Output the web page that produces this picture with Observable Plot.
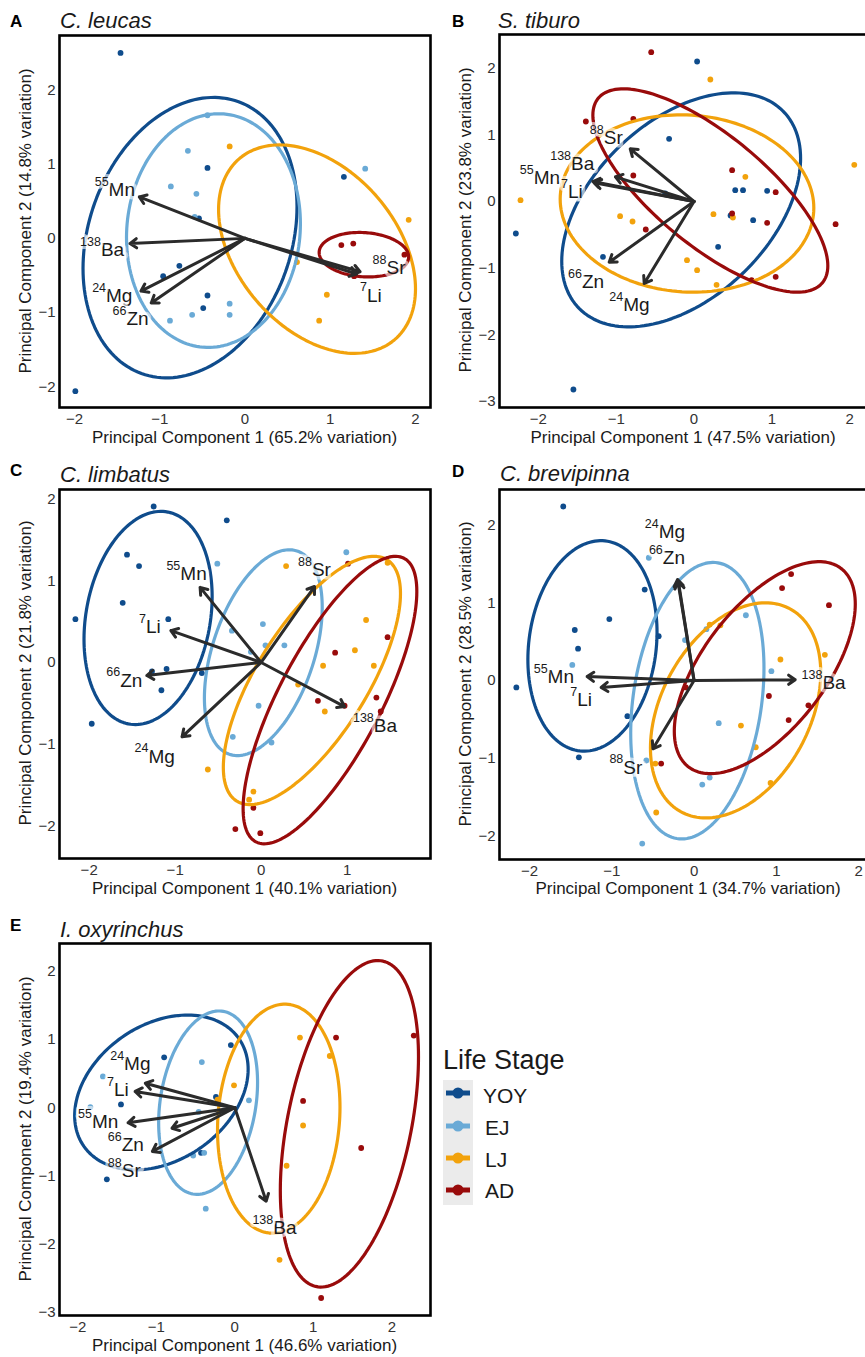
<!DOCTYPE html>
<html>
<head>
<meta charset="utf-8">
<script src="https://cdn.jsdelivr.net/npm/d3@7"></script>
<script src="https://cdn.jsdelivr.net/npm/@observablehq/plot@0.6"></script>
<style>
  html, body { margin: 0; padding: 0; background: #fff; overflow: hidden; }
  #root { position: relative; width: 865px; height: 1357px; overflow: hidden; font-family: "Liberation Sans", Arial, Helvetica, sans-serif; }
  .panel { position: absolute; }
  #overlay { position: absolute; left: 0; top: 0; pointer-events: none; }
</style>
</head>
<body>
<div id="root"></div>
<script>
// ---------------- Data ----------------
const stages = ["YOY", "EJ", "LJ", "AD"];
const stageColors = ["#0f4c8c", "#6aaad6", "#f2a20c", "#990b0b"];

// Panel A — C. leucas
const A_points = [
  ["YOY",-1.46,2.50],["YOY",-1.99,-2.06],["YOY",-0.44,0.95],["YOY",-0.54,0.27],["YOY",-0.77,-0.37],
  ["YOY",-0.96,-0.51],["YOY",-0.44,-0.77],["YOY",-0.49,-0.94],["YOY",1.16,0.83],
  ["EJ",-0.44,1.66],["EJ",-0.67,1.18],["EJ",-0.87,0.70],["EJ",-0.57,0.60],["EJ",-0.59,0.29],
  ["EJ",-0.18,-0.88],["EJ",-0.18,-1.03],["EJ",-0.62,-1.03],["EJ",-0.88,-1.11],["EJ",1.41,0.94],
  ["LJ",-0.18,1.24],["LJ",1.92,0.25],["LJ",0.61,-0.32],["LJ",0.96,-0.76],["LJ",0.87,-1.11],
  ["AD",1.13,-0.09],["AD",1.27,-0.07],["AD",1.87,-0.22],["AD",1.28,-0.51]
];
// ellipse: stage, centre x, centre y, half-width, half-height, tilt (cos phase)
const A_ellipses = [
  ["YOY",-0.645,0.01,1.255,1.89,0.22],
  ["EJ",-0.37,0.105,1.02,1.575,0.06],
  ["LJ",0.845,-0.145,1.155,1.405,-0.38],
  ["AD",1.395,-0.22,0.525,0.30,-0.1]
];
const A_loadings = [
  ["Mn",-1.24,0.56],["Ba",-1.35,-0.07],["Mg",-1.22,-0.71],["Zn",-1.10,-0.87],["Sr",1.35,-0.45],["Li",1.31,-0.48]
];
const A_labels = [
  ["55","Mn",-1.60,0.65],["138","Ba",-1.69,-0.15],["24","Mg",-1.63,-0.78],
  ["66","Zn",-1.39,-1.09],["88","Sr",1.66,-0.40],["7","Li",1.43,-0.77]
];

// Panel B — S. tiburo
const B_points = [
  ["YOY",0.04,2.10],["YOY",-0.32,0.94],["YOY",-0.37,0.12],["YOY",0.53,0.17],["YOY",0.63,0.17],
  ["YOY",0.94,0.16],["YOY",0.76,-0.28],["YOY",0.47,-0.21],["YOY",0.31,-0.68],["YOY",-1.17,-0.83],
  ["YOY",-2.29,-0.48],["YOY",-1.55,-2.82],
  ["LJ",0.21,1.83],["LJ",0.66,0.37],["LJ",2.06,0.55],["LJ",-2.23,0.02],["LJ",-0.95,-0.22],
  ["LJ",-0.79,-0.30],["LJ",0.25,-0.19],["LJ",0.50,-0.24],["LJ",-0.09,-0.88],["LJ",0.04,-1.03],["LJ",0.29,-1.25],
  ["AD",-0.55,2.24],["AD",-1.39,1.20],["AD",-0.78,1.24],["AD",-0.78,0.39],["AD",0.49,0.47],
  ["AD",1.05,0.14],["AD",0.49,-0.18],["AD",0.94,-0.32],["AD",1.82,-0.34],["AD",-0.62,-0.42],
  ["AD",0.74,-1.18],["AD",1.05,-1.13]
];
const B_ellipses = [
  ["YOY",-0.165,-0.125,1.535,1.755,0.44],
  ["LJ",-0.09,-0.03,1.63,1.33,-0.05],
  ["AD",0.21,0.165,1.51,1.525,-0.74]
];
const B_loadings = [
  ["Sr",-0.82,0.79],["Ba",-1.01,0.37],["Mn",-1.30,0.30],["Li",-1.28,0.28],["Zn",-1.09,-0.91],["Mg",-0.64,-1.23]
];
const B_labels = [
  ["88","Sr",-1.16,0.96],["138","Ba",-1.58,0.57],["55","Mn",-2.06,0.35],
  ["7","Li",-1.62,0.14],["66","Zn",-1.44,-1.20],["24","Mg",-0.91,-1.55]
];

// Panel C — C. limbatus
const C_points = [
  ["YOY",-1.25,1.91],["YOY",-0.40,1.74],["YOY",-1.56,1.32],["YOY",-1.42,1.18],["YOY",-1.61,0.73],
  ["YOY",-2.16,0.53],["YOY",-1.08,0.53],["YOY",-1.27,-0.11],["YOY",-1.10,-0.08],["YOY",-0.69,-0.13],
  ["YOY",-1.16,-0.34],["YOY",-1.97,-0.75],
  ["EJ",-0.51,1.21],["EJ",0.99,1.35],["EJ",0.02,0.47],["EJ",-0.34,0.39],["EJ",0.05,0.21],
  ["EJ",0.27,0.21],["EJ",-0.12,0.13],["EJ",-0.03,-0.53],["EJ",-0.33,-0.91],["EJ",0.12,-0.98],
  ["LJ",0.29,1.18],["LJ",1.47,1.22],["LJ",1.22,0.52],["LJ",1.09,0.15],["LJ",1.31,-0.04],
  ["LJ",0.72,-0.04],["LJ",0.43,-0.27],["LJ",0.74,-0.60],["LJ",-0.62,-1.31],["LJ",-0.09,-1.58],["LJ",-0.14,-1.68],
  ["AD",1.01,1.21],["AD",1.47,0.31],["AD",0.86,0.12],["AD",0.66,-0.47],["AD",1.34,-0.43],
  ["AD",0.97,-0.53],["AD",-0.09,-1.78],["AD",-0.30,-2.04],["AD",-0.01,-2.09],["AD",1.39,-0.60]
];
const C_ellipses = [
  ["YOY",-1.315,0.545,0.745,1.305,0.2],
  ["EJ",0.025,0.12,0.685,1.26,0.44],
  ["LJ",0.59,-0.22,1.03,1.52,0.7],
  ["AD",0.80,-0.46,1.01,1.76,0.755]
];
const C_loadings = [
  ["Mn",-0.71,0.92],["Li",-1.05,0.39],["Zn",-1.33,-0.16],["Mg",-0.92,-0.91],["Sr",0.62,0.93],["Ba",0.97,-0.54]
];
const C_labels = [
  ["55","Mn",-0.94,1.08],["7","Li",-1.34,0.43],["66","Zn",-1.64,-0.22],
  ["24","Mg",-1.31,-1.15],["88","Sr",0.59,1.13],["138","Ba",1.31,-0.78]
];

// Panel D — C. brevipinna
const D_points = [
  ["YOY",-1.59,2.24],["YOY",-0.60,1.17],["YOY",-1.03,0.79],["YOY",-1.45,0.65],["YOY",-1.41,0.41],
  ["YOY",-0.43,0.57],["YOY",-2.16,-0.09],["YOY",-0.81,-0.46],["YOY",-1.40,-0.99],
  ["EJ",-0.55,1.58],["EJ",-0.11,0.52],["EJ",0.15,0.66],["EJ",0.63,0.84],["EJ",-1.48,0.20],
  ["EJ",0.94,0.12],["EJ",0.30,-0.55],["EJ",-0.58,-1.03],["EJ",0.19,-1.25],["EJ",0.10,-1.34],["EJ",-0.63,-2.10],
  ["LJ",0.19,0.72],["LJ",0.32,0.71],["LJ",1.05,0.27],["LJ",1.59,0.33],["LJ",0.57,-0.58],
  ["LJ",0.75,-0.86],["LJ",-0.47,-1.07],["LJ",0.93,-1.32],["LJ",-0.46,-1.70],
  ["AD",1.18,1.37],["AD",1.07,1.19],["AD",1.64,0.97],["AD",0.91,-0.20],["AD",1.39,-0.32],
  ["AD",1.15,-0.51],["AD",-0.40,-1.07],["AD",-0.10,-0.09]
];
const D_ellipses = [
  ["YOY",-1.235,0.445,0.785,1.355,0.13],
  ["EJ",0.04,-0.26,0.81,1.78,0.235],
  ["LJ",0.505,-0.385,1.035,1.385,0.35],
  ["AD",0.86,0.165,1.10,1.365,0.6]
];
const D_loadings = [
  ["Mg",-0.20,1.30],["Zn",-0.19,1.27],["Mn",-1.30,0.05],["Li",-1.13,-0.09],["Ba",1.23,0.01],["Sr",-0.50,-0.88]
];
const D_labels = [
  ["24","Mg",-0.43,1.91],["66","Zn",-0.38,1.58],["55","Mn",-1.78,0.05],
  ["7","Li",-1.42,-0.25],["138","Ba",1.56,-0.03],["88","Sr",-0.86,-1.12]
];

// Panel E — I. oxyrinchus
const E_points = [
  ["YOY",-0.05,0.92],["YOY",-0.90,0.74],["YOY",-0.24,0.16],["YOY",-1.45,0.05],["YOY",-0.43,-0.66],["YOY",-1.63,-1.05],
  ["EJ",-0.42,0.67],["EJ",-1.68,0.46],["EJ",-1.84,0.01],["EJ",0.18,0.11],["EJ",-0.46,-0.06],
  ["EJ",-0.53,-0.70],["EJ",-0.39,-0.66],["EJ",-0.37,-1.48],
  ["LJ",0.83,1.03],["LJ",1.21,0.76],["LJ",-0.01,0.33],["LJ",-0.22,0.12],["LJ",0.87,-0.26],
  ["LJ",0.66,-0.85],["LJ",0.57,-2.23],
  ["AD",1.29,1.03],["AD",2.28,1.06],["AD",0.87,0.10],["AD",1.61,-0.59],["AD",1.10,-2.79]
];
const E_ellipses = [
  ["YOY",-0.935,0.225,1.105,1.135,0.3],
  ["EJ",-0.34,0.075,0.63,1.345,0.22],
  ["LJ",0.56,-0.16,0.78,1.68,0.1],
  ["AD",1.46,-0.235,0.88,2.395,0.41]
];
const E_loadings = [
  ["Mg",-1.14,0.36],["Li",-1.27,0.24],["Mn",-1.36,-0.22],["Zn",-1.05,-0.64],["Sr",-0.80,-0.30],["Ba",0.40,-1.37]
];
const E_labels = [
  ["24","Mg",-1.41,0.64],["7","Li",-1.54,0.26],["55","Mn",-1.82,-0.21],
  ["66","Zn",-1.44,-0.54],["88","Sr",-1.44,-0.93],["138","Ba",0.49,-1.76]
];

const panelTitles = [
  ["A","C. leucas"],["B","S. tiburo"],["C","C. limbatus"],["D","C. brevipinna"],["E","I. oxyrinchus"]
];
const xTitles = [
  "Principal Component 1 (65.2% variation)","Principal Component 1 (47.5% variation)",
  "Principal Component 1 (40.1% variation)","Principal Component 1 (34.7% variation)",
  "Principal Component 1 (46.6% variation)"
];
const yTitles = [
  "Principal Component 2 (14.8% variation)","Principal Component 2 (23.8% variation)",
  "Principal Component 2 (21.8% variation)","Principal Component 2 (28.5% variation)",
  "Principal Component 2 (19.4% variation)"
];
const xTicks = [[-2,-1,0,1,2],[-2,-1,0,1,2],[-2,-1,0,1],[-2,-1,0,1,2],[-2,-1,0,1,2]];
const yTicks = [[-2,-1,0,1,2],[-3,-2,-1,0,1,2],[-2,-1,0,1,2],[-2,-1,0,1,2],[-3,-2,-1,0,1,2]];

// ---------------- Layout ----------------
const FONT = '"Liberation Sans", Arial, Helvetica, sans-serif';
const layouts = [
  {left:0,   top:0,   width:440, height:430, mL:59, mR:10, mT:35, mB:23, xdom:[-2.176,2.176], ydom:[-2.28,2.735]},
  {left:440, top:0,   width:437, height:430, mL:59, mR:10, mT:34, mB:23, xdom:[-2.50,2.23],   ydom:[-3.09,2.505]},
  {left:0,   top:450, width:440, height:430, mL:59, mR:10, mT:39, mB:22, xdom:[-2.345,1.969], ydom:[-2.40,2.118]},
  {left:440, top:450, width:447, height:430, mL:59, mR:10, mT:39, mB:21, xdom:[-2.365,2.23],  ydom:[-2.305,2.459]},
  {left:0,   top:900, width:440, height:435, mL:59, mR:10, mT:43, mB:20, xdom:[-2.233,2.493], ydom:[-3.047,2.41]}
];
const panelData = [
  [A_points,A_ellipses,A_loadings,A_labels],
  [B_points,B_ellipses,B_loadings,B_labels],
  [C_points,C_ellipses,C_loadings,C_labels],
  [D_points,D_ellipses,D_loadings,D_labels],
  [E_points,E_ellipses,E_loadings,E_labels]
];

function ellipseOutline(ells) {
  const out = [];
  for (const [stage, cx, cy, rx, ry, k] of ells) {
    const phi = Math.acos(k);
    for (let i = 0; i <= 160; i++) {
      const t = 2 * Math.PI * i / 160;
      out.push({stage, x: cx + rx * Math.cos(t), y: cy + ry * Math.cos(t + phi)});
    }
  }
  return out;
}
const fmt = d => (d < 0 ? "\u2212" : "") + Math.abs(d);

const root = document.getElementById("root");

layouts.forEach((L, i) => {
  const [pts, ells, loads, labs] = panelData[i];
  const points = pts.map(([stage, x, y]) => ({stage, x, y}));
  const loadings = loads.map(([el, x, y]) => ({el, x, y}));
  const labels = labs.map(([num, sym, x, y]) => ({num, sym, x, y}));
  const chart = Plot.plot({
    width: L.width, height: L.height,
    marginLeft: L.mL, marginRight: L.mR, marginTop: L.mT, marginBottom: L.mB,
    style: {fontFamily: FONT, background: "transparent", overflow: "visible"},
    x: {domain: L.xdom, label: null},
    y: {domain: L.ydom, label: null},
    color: {domain: stages, range: stageColors},
    marks: [
      Plot.axisX(xTicks[i], {tickSize: 0, tickPadding: 6, fontSize: 15, fill: "#333", label: null, tickFormat: fmt}),
      Plot.axisY(yTicks[i], {tickSize: 0, tickPadding: 4, fontSize: 15, fill: "#333", label: null, tickFormat: fmt}),
      Plot.dot(points, {x: "x", y: "y", fill: "stage", r: 2.9}),
      Plot.line(ellipseOutline(ells), {x: "x", y: "y", z: "stage", stroke: "stage", strokeWidth: 3.2}),
      Plot.arrow(loadings, {x1: () => 0, y1: () => 0, x2: "x", y2: "y", stroke: "#2b2b2b", strokeWidth: 3, headLength: 4, headAngle: 70}),
      Plot.text(labels, {x: "x", y: "y", text: "sym", textAnchor: "start", fontSize: 19, fill: "#1a1a1a",
        stroke: "white", strokeWidth: 7, strokeOpacity: 0.6}),
      Plot.text(labels, {x: "x", y: "y", text: "num", textAnchor: "end", fontSize: 12.5, dy: -8, fill: "#1a1a1a",
        stroke: "white", strokeWidth: 6, strokeOpacity: 0.6}),
      Plot.frame({stroke: "black", strokeWidth: 2.6})
    ]
  });
  chart.classList.add("panel");
  chart.style.left = L.left + "px";
  chart.style.top = L.top + "px";
  root.appendChild(chart);
});

// ---------------- Titles, axis titles, legend ----------------
const ns = "http://www.w3.org/2000/svg";
const ov = document.createElementNS(ns, "svg");
ov.setAttribute("id", "overlay");
ov.setAttribute("width", 865);
ov.setAttribute("height", 1357);
root.appendChild(ov);
function addText(txt, x, y, attrs) {
  const t = document.createElementNS(ns, "text");
  t.textContent = txt;
  t.setAttribute("x", x); t.setAttribute("y", y);
  t.setAttribute("font-family", FONT);
  for (const k in attrs) t.setAttribute(k, attrs[k]);
  ov.appendChild(t);
  return t;
}
const titlePos = [[10,27,60,28],[452,27,498,28],[10,476,60,482],[452,477,500,481],[10,931,60,937]];
panelTitles.forEach(([letter, species], i) => {
  const [lx, ly, sx, sy] = titlePos[i];
  addText(letter, lx, ly, {"font-size": 17, "font-weight": "bold", fill: "#000"});
  addText(species, sx, sy, {"font-size": 22, "font-style": "italic", fill: "#1a1a1a"});
});
const xTitlePos = [[244.5,443],[683,443],[244.5,894],[688,894],[244.5,1351]];
const yTitlePos = [[31,221],[471,220],[31,673],[471,674],[31,1129]];
xTitles.forEach((t, i) => addText(t, xTitlePos[i][0], xTitlePos[i][1], {"font-size": 17, "text-anchor": "middle", fill: "#1a1a1a"}));
yTitles.forEach((t, i) => addText(t, 0, 0, {"font-size": 17, "text-anchor": "middle", fill: "#1a1a1a",
  transform: `translate(${yTitlePos[i][0]},${yTitlePos[i][1]}) rotate(-90)`}));

// legend
addText("Life Stage", 443, 1069, {"font-size": 27, fill: "#1a1a1a"});
const bg = document.createElementNS(ns, "rect");
bg.setAttribute("x", 443); bg.setAttribute("y", 1080); bg.setAttribute("width", 30); bg.setAttribute("height", 125);
bg.setAttribute("fill", "#ebebeb");
ov.appendChild(bg);
const keyY = [1093, 1126, 1158, 1190];
const keyTextPos = [[483,1103],[485,1135],[485,1167],[485,1198]];
stages.forEach((s, i) => {
  const ln = document.createElementNS(ns, "line");
  ln.setAttribute("x1", 446); ln.setAttribute("x2", 470);
  ln.setAttribute("y1", keyY[i]); ln.setAttribute("y2", keyY[i]);
  ln.setAttribute("stroke", stageColors[i]); ln.setAttribute("stroke-width", 5);
  ov.appendChild(ln);
  const c = document.createElementNS(ns, "circle");
  c.setAttribute("cx", 458); c.setAttribute("cy", keyY[i]); c.setAttribute("r", 5.5);
  c.setAttribute("fill", stageColors[i]);
  ov.appendChild(c);
  addText(s, keyTextPos[i][0], keyTextPos[i][1], {"font-size": 21, fill: "#1a1a1a"});
});
</script>
</body>
</html>
